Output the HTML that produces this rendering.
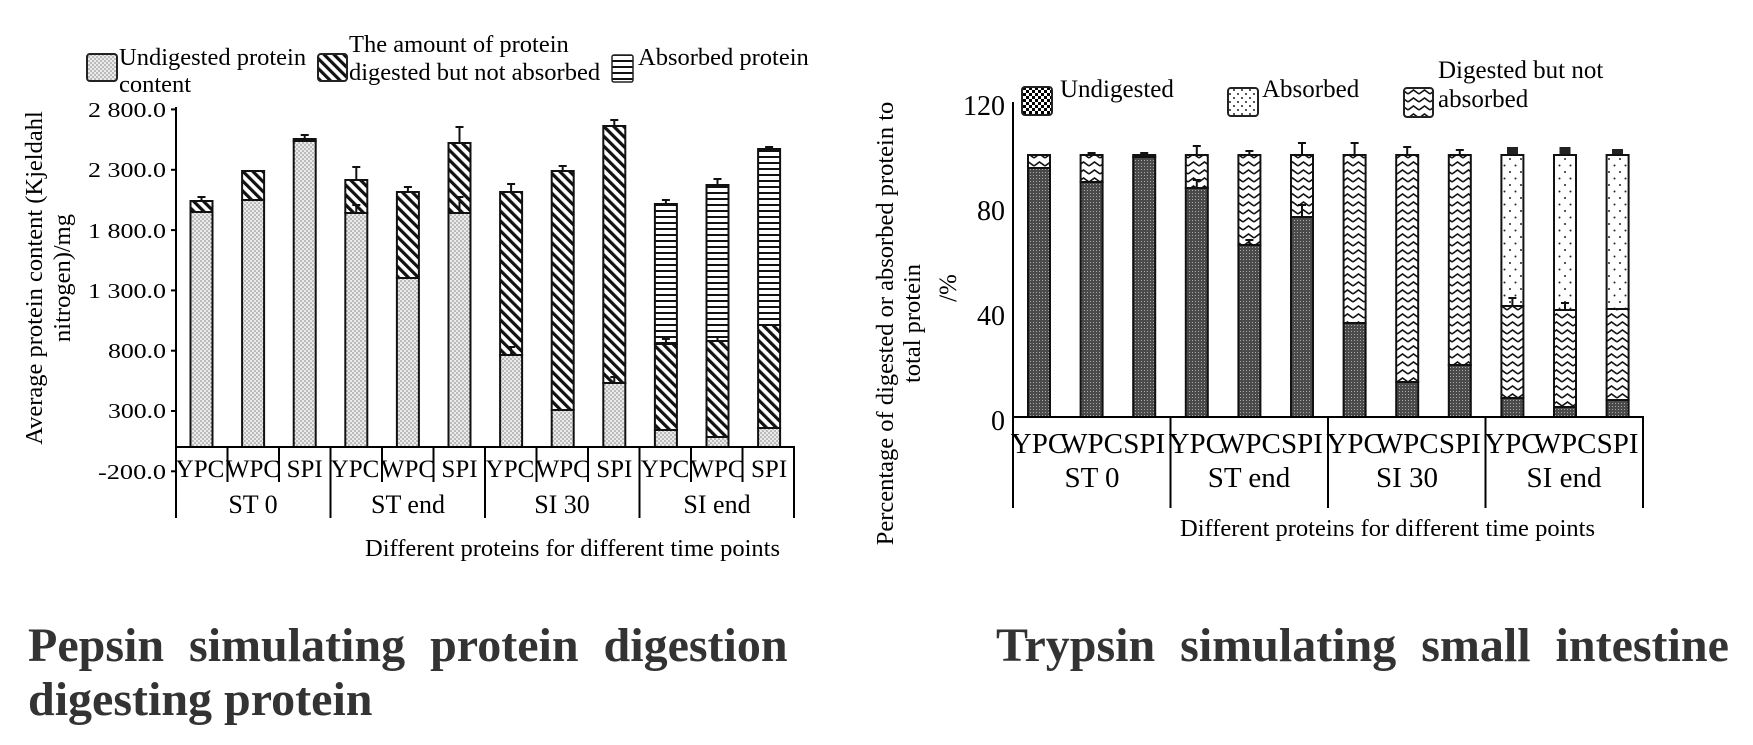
<!DOCTYPE html>
<html><head><meta charset="utf-8"><style>
html,body{margin:0;padding:0;background:#fff;}
svg{display:block;}
text{font-family:"Liberation Serif",serif;fill:#000;}
</style></head><body>
<svg width="1753" height="745" viewBox="0 0 1753 745" xmlns="http://www.w3.org/2000/svg">
<defs>
<pattern id="pDots" width="4" height="4" patternUnits="userSpaceOnUse"><rect width="4" height="4" fill="#ebebeb"/><circle cx="1" cy="1" r="0.75" fill="#7a7a7a"/><circle cx="3" cy="3" r="0.75" fill="#7a7a7a"/></pattern>
<pattern id="pHatch" width="7" height="7" patternUnits="userSpaceOnUse" patternTransform="rotate(-45)"><rect width="7" height="7" fill="#fff"/><rect width="3.2" height="7" fill="#111"/></pattern>
<pattern id="pH" width="6" height="6" patternUnits="userSpaceOnUse"><rect width="6" height="6" fill="#fff"/><rect width="6" height="2" fill="#111"/></pattern>
<pattern id="pDark" width="3" height="3" patternUnits="userSpaceOnUse"><rect width="3" height="3" fill="#4a4a4a"/><rect x="1" y="1" width="1" height="1" fill="#aaa"/></pattern>
<pattern id="pWave" width="11" height="8" patternUnits="userSpaceOnUse"><rect width="11" height="8" fill="#fff"/><path d="M0 6 L5.5 2 L11 6" fill="none" stroke="#111" stroke-width="1.6"/></pattern>
<pattern id="pSparse" width="11" height="13" patternUnits="userSpaceOnUse"><rect width="11" height="13" fill="#fff"/><circle cx="3" cy="3" r="1" fill="#222"/><circle cx="8.5" cy="9.5" r="1" fill="#222"/></pattern>
<pattern id="pSparseL" width="8" height="8" patternUnits="userSpaceOnUse"><rect width="8" height="8" fill="#fff"/><circle cx="2" cy="2" r="1" fill="#222"/><circle cx="6" cy="6" r="1" fill="#222"/></pattern>
<pattern id="pCheck" width="6" height="6" patternUnits="userSpaceOnUse"><rect width="6" height="6" fill="#fff"/><rect width="3" height="3" fill="#000"/><rect x="3" y="3" width="3" height="3" fill="#000"/></pattern>
</defs>

<!-- ================= LEFT CHART ================= -->
<rect x="87" y="54" width="30" height="27" rx="3" fill="url(#pDots)" stroke="#222" stroke-width="2"/>
<text x="119" y="65" font-size="24.5">Undigested protein</text>
<text x="119" y="92" font-size="24.5">content</text>
<rect x="318" y="54" width="29" height="27" rx="3" fill="url(#pHatch)" stroke="#222" stroke-width="2"/>
<text x="349" y="52" font-size="24.5">The amount of protein</text>
<text x="349" y="80" font-size="24.5">digested but not absorbed</text>
<rect x="612" y="55" width="21" height="27" rx="2" fill="url(#pH)" stroke="#222" stroke-width="1.5"/>
<text x="638" y="65" font-size="24.5">Absorbed protein</text>

<text transform="translate(42,278) rotate(-90)" text-anchor="middle" font-size="24.5">Average protein content (Kjeldahl</text>
<text transform="translate(70,278) rotate(-90)" text-anchor="middle" font-size="24.5">nitrogen)/mg</text>

<g font-size="21" text-anchor="end">
<text x="166" y="117" textLength="78" lengthAdjust="spacingAndGlyphs">2 800.0</text>
<text x="166" y="177" textLength="78" lengthAdjust="spacingAndGlyphs">2 300.0</text>
<text x="166" y="238" textLength="78" lengthAdjust="spacingAndGlyphs">1 800.0</text>
<text x="166" y="298" textLength="78" lengthAdjust="spacingAndGlyphs">1 300.0</text>
<text x="166" y="358" textLength="58" lengthAdjust="spacingAndGlyphs">800.0</text>
<text x="166" y="418" textLength="58" lengthAdjust="spacingAndGlyphs">300.0</text>
<text x="166" y="479" textLength="68" lengthAdjust="spacingAndGlyphs">-200.0</text>
</g>
<g stroke="#000" stroke-width="2">
<line x1="176" y1="107" x2="176" y2="518"/>
<line x1="171" y1="109.4" x2="176" y2="109.4"/>
<line x1="171" y1="169.8" x2="176" y2="169.8"/>
<line x1="171" y1="230.1" x2="176" y2="230.1"/>
<line x1="171" y1="290.4" x2="176" y2="290.4"/>
<line x1="171" y1="350.7" x2="176" y2="350.7"/>
<line x1="171" y1="411" x2="176" y2="411"/>
<line x1="171" y1="471.3" x2="176" y2="471.3"/>
</g>

<g stroke="#111" stroke-width="2">
<rect x="190.5" y="212" width="22" height="235" fill="url(#pDots)"/>
<rect x="190.5" y="201" width="22" height="11" fill="url(#pHatch)"/>
<rect x="242.1" y="200" width="22" height="247" fill="url(#pDots)"/>
<rect x="242.1" y="171" width="22" height="29" fill="url(#pHatch)"/>
<rect x="293.7" y="141" width="22" height="306" fill="url(#pDots)"/>
<rect x="293.7" y="139" width="22" height="2" fill="url(#pHatch)"/>
<rect x="345.3" y="213" width="22" height="234" fill="url(#pDots)"/>
<rect x="345.3" y="180" width="22" height="33" fill="url(#pHatch)"/>
<rect x="396.9" y="278" width="22" height="169" fill="url(#pDots)"/>
<rect x="396.9" y="192" width="22" height="86" fill="url(#pHatch)"/>
<rect x="448.5" y="213" width="22" height="234" fill="url(#pDots)"/>
<rect x="448.5" y="143" width="22" height="70" fill="url(#pHatch)"/>
<rect x="500.1" y="355" width="22" height="92" fill="url(#pDots)"/>
<rect x="500.1" y="192" width="22" height="163" fill="url(#pHatch)"/>
<rect x="551.7" y="410" width="22" height="37" fill="url(#pDots)"/>
<rect x="551.7" y="171" width="22" height="239" fill="url(#pHatch)"/>
<rect x="603.3" y="383" width="22" height="64" fill="url(#pDots)"/>
<rect x="603.3" y="126" width="22" height="257" fill="url(#pHatch)"/>
<rect x="654.9" y="430" width="22" height="17" fill="url(#pDots)"/>
<rect x="654.9" y="344" width="22" height="86" fill="url(#pHatch)"/>
<rect x="654.9" y="204" width="22" height="140" fill="url(#pH)"/>
<rect x="706.5" y="437" width="22" height="10" fill="url(#pDots)"/>
<rect x="706.5" y="341" width="22" height="96" fill="url(#pHatch)"/>
<rect x="706.5" y="185" width="22" height="156" fill="url(#pH)"/>
<rect x="758.1" y="428" width="22" height="19" fill="url(#pDots)"/>
<rect x="758.1" y="325" width="22" height="103" fill="url(#pHatch)"/>
<rect x="758.1" y="149" width="22" height="176" fill="url(#pH)"/>
</g>
<g stroke="#111" stroke-width="2" fill="none">
<path d="M201.5 201V197 M197.5 197H205.5"/>
<path d="M304.7 139V135 M300.7 135H308.7"/>
<path d="M356.3 180V167 M352.3 167H360.3 M356.3 213V205 M352.3 205H360.3"/>
<path d="M407.9 192V187 M403.9 187H411.9"/>
<path d="M459.5 143V127 M455.5 127H463.5 M459.5 213V197 M455.5 197H463.5"/>
<path d="M511.1 192V184 M507.1 184H515.1 M511.1 355V347 M507.1 347H515.1"/>
<path d="M562.7 171V166 M558.7 166H566.7"/>
<path d="M614.3 126V120 M610.3 120H618.3 M614.3 383V377 M610.3 377H618.3"/>
<path d="M665.9 204V200 M661.9 200H669.9 M665.9 344V339 M661.9 339H669.9"/>
<path d="M717.5 185V179 M713.5 179H721.5 M717.5 341V337 M713.5 337H721.5"/>
<path d="M769.1 149V147 M765.1 147H773.1"/>
</g>

<g stroke="#000" stroke-width="2">
<line x1="175" y1="447" x2="794" y2="447"/>
<line x1="330.5" y1="447" x2="330.5" y2="518"/>
<line x1="485" y1="447" x2="485" y2="518"/>
<line x1="639.5" y1="447" x2="639.5" y2="518"/>
<line x1="794" y1="446" x2="794" y2="518"/>
<line x1="227.5" y1="447" x2="227.5" y2="482"/>
<line x1="279" y1="447" x2="279" y2="482"/>
<line x1="382" y1="447" x2="382" y2="482"/>
<line x1="433.5" y1="447" x2="433.5" y2="482"/>
<line x1="536.5" y1="447" x2="536.5" y2="482"/>
<line x1="588" y1="447" x2="588" y2="482"/>
<line x1="691" y1="447" x2="691" y2="482"/>
<line x1="742.5" y1="447" x2="742.5" y2="482"/>
</g>
<g font-size="25" text-anchor="middle">
<text x="200" y="477">YPC</text><text x="253" y="477">WPC</text><text x="304.7" y="477">SPI</text>
<text x="355" y="477">YPC</text><text x="408" y="477">WPC</text><text x="459.5" y="477">SPI</text>
<text x="510" y="477">YPC</text><text x="562.7" y="477">WPC</text><text x="614.3" y="477">SPI</text>
<text x="665" y="477">YPC</text><text x="717.5" y="477">WPC</text><text x="769.1" y="477">SPI</text>
</g>
<g font-size="26" text-anchor="middle">
<text x="253" y="513">ST 0</text>
<text x="408" y="513">ST end</text>
<text x="562" y="513">SI 30</text>
<text x="717" y="513">SI end</text>
</g>
<text x="365" y="556" font-size="24.5" textLength="415" lengthAdjust="spacingAndGlyphs">Different proteins for different time points</text>

<!-- ================= RIGHT CHART ================= -->
<rect x="1022" y="87" width="30" height="28" rx="3" fill="url(#pCheck)" stroke="#222" stroke-width="2"/>
<text x="1060" y="97" font-size="25">Undigested</text>
<rect x="1228" y="88" width="30" height="28" rx="3" fill="url(#pSparseL)" stroke="#222" stroke-width="2"/>
<text x="1262" y="97" font-size="25">Absorbed</text>
<rect x="1404" y="88" width="29" height="29" rx="3" fill="url(#pWave)" stroke="#222" stroke-width="2"/>
<text x="1438" y="78" font-size="25">Digested but not</text>
<text x="1438" y="107" font-size="25">absorbed</text>

<text transform="translate(893,323.5) rotate(-90)" text-anchor="middle" font-size="24.5">Percentage of digested or absorbed protein to</text>
<text transform="translate(920,323.5) rotate(-90)" text-anchor="middle" font-size="24.5">total protein</text>
<text transform="translate(956,288) rotate(-90)" text-anchor="middle" font-size="25">/%</text>

<g font-size="28" text-anchor="end">
<text x="1005" y="115">120</text>
<text x="1005" y="220">80</text>
<text x="1005" y="325">40</text>
<text x="1005" y="430">0</text>
</g>
<line x1="1013" y1="102" x2="1013" y2="508" stroke="#000" stroke-width="2"/>

<g stroke="#111" stroke-width="2">
<rect x="1028" y="168" width="22" height="249" fill="url(#pDark)"/>
<rect x="1028" y="155" width="22" height="13" fill="url(#pWave)"/>
<rect x="1080.6" y="182" width="22" height="235" fill="url(#pDark)"/>
<rect x="1080.6" y="155" width="22" height="27" fill="url(#pWave)"/>
<rect x="1133.2" y="157" width="22" height="260" fill="url(#pDark)"/>
<rect x="1133.2" y="155" width="22" height="2" fill="url(#pWave)"/>
<rect x="1185.8" y="188" width="22" height="229" fill="url(#pDark)"/>
<rect x="1185.8" y="155" width="22" height="33" fill="url(#pWave)"/>
<rect x="1238.4" y="245" width="22" height="172" fill="url(#pDark)"/>
<rect x="1238.4" y="155" width="22" height="90" fill="url(#pWave)"/>
<rect x="1291" y="217" width="22" height="200" fill="url(#pDark)"/>
<rect x="1291" y="155" width="22" height="62" fill="url(#pWave)"/>
<rect x="1343.6" y="323" width="22" height="94" fill="url(#pDark)"/>
<rect x="1343.6" y="155" width="22" height="168" fill="url(#pWave)"/>
<rect x="1396.2" y="382" width="22" height="35" fill="url(#pDark)"/>
<rect x="1396.2" y="155" width="22" height="227" fill="url(#pWave)"/>
<rect x="1448.8" y="365" width="22" height="52" fill="url(#pDark)"/>
<rect x="1448.8" y="155" width="22" height="210" fill="url(#pWave)"/>
<rect x="1501.4" y="398" width="22" height="19" fill="url(#pDark)"/>
<rect x="1501.4" y="306" width="22" height="92" fill="url(#pWave)"/>
<rect x="1501.4" y="155" width="22" height="151" fill="url(#pSparse)"/>
<rect x="1554" y="407" width="22" height="10" fill="url(#pDark)"/>
<rect x="1554" y="310" width="22" height="97" fill="url(#pWave)"/>
<rect x="1554" y="155" width="22" height="155" fill="url(#pSparse)"/>
<rect x="1606.6" y="400" width="22" height="17" fill="url(#pDark)"/>
<rect x="1606.6" y="309" width="22" height="91" fill="url(#pWave)"/>
<rect x="1606.6" y="155" width="22" height="154" fill="url(#pSparse)"/>
</g>
<g stroke="#111" stroke-width="2" fill="none">
<path d="M1091.6 155V153 M1087.6 153H1095.6"/>
<path d="M1144.2 155V153 M1140.2 153H1148.2"/>
<path d="M1196.8 155V146 M1192.8 146H1200.8 M1196.8 188V180 M1192.8 180H1200.8"/>
<path d="M1249.4 155V151 M1245.4 151H1253.4 M1249.4 245V240 M1245.4 240H1253.4"/>
<path d="M1302 155V143 M1298 143H1306 M1302 217V205 M1298 205H1306"/>
<path d="M1354.6 155V143 M1350.6 143H1358.6"/>
<path d="M1407.2 155V147 M1403.2 147H1411.2"/>
<path d="M1459.8 155V150 M1455.8 150H1463.8"/>
<path d="M1512.4 306V298 M1508.4 298H1516.4"/>
<path d="M1565 310V303 M1561 303H1569"/>
</g>
<g fill="#222">
<rect x="1507" y="147" width="11" height="7"/>
<rect x="1559.5" y="147" width="11" height="7"/>
<rect x="1612" y="149" width="11" height="5"/>
</g>

<g stroke="#000" stroke-width="2">
<line x1="1012" y1="417" x2="1643" y2="417"/>
<line x1="1170.5" y1="417" x2="1170.5" y2="508"/>
<line x1="1328" y1="417" x2="1328" y2="508"/>
<line x1="1485.5" y1="417" x2="1485.5" y2="508"/>
<line x1="1643" y1="416" x2="1643" y2="508"/>
</g>
<g font-size="29" text-anchor="middle">
<text x="1039" y="453">YPC</text><text x="1091.6" y="453">WPC</text><text x="1144.2" y="453">SPI</text>
<text x="1196.8" y="453">YPC</text><text x="1249.4" y="453">WPC</text><text x="1302" y="453">SPI</text>
<text x="1354.6" y="453">YPC</text><text x="1407.2" y="453">WPC</text><text x="1459.8" y="453">SPI</text>
<text x="1512.4" y="453">YPC</text><text x="1565" y="453">WPC</text><text x="1617.6" y="453">SPI</text>
</g>
<g font-size="29" text-anchor="middle">
<text x="1092" y="487">ST 0</text>
<text x="1249" y="487">ST end</text>
<text x="1407" y="487">SI 30</text>
<text x="1564" y="487">SI end</text>
</g>
<text x="1180" y="536" font-size="24.5" textLength="415" lengthAdjust="spacingAndGlyphs">Different proteins for different time points</text>

<!-- ================= CAPTIONS ================= -->
<g font-size="48" font-weight="bold">
<text x="28" y="661" style="fill:#333;word-spacing:13px">Pepsin simulating protein digestion</text>
<text x="28" y="715" style="fill:#333">digesting protein</text>
<text x="996" y="661" style="fill:#333;word-spacing:13px">Trypsin simulating small intestine</text>
</g>
</svg>
</body></html>
